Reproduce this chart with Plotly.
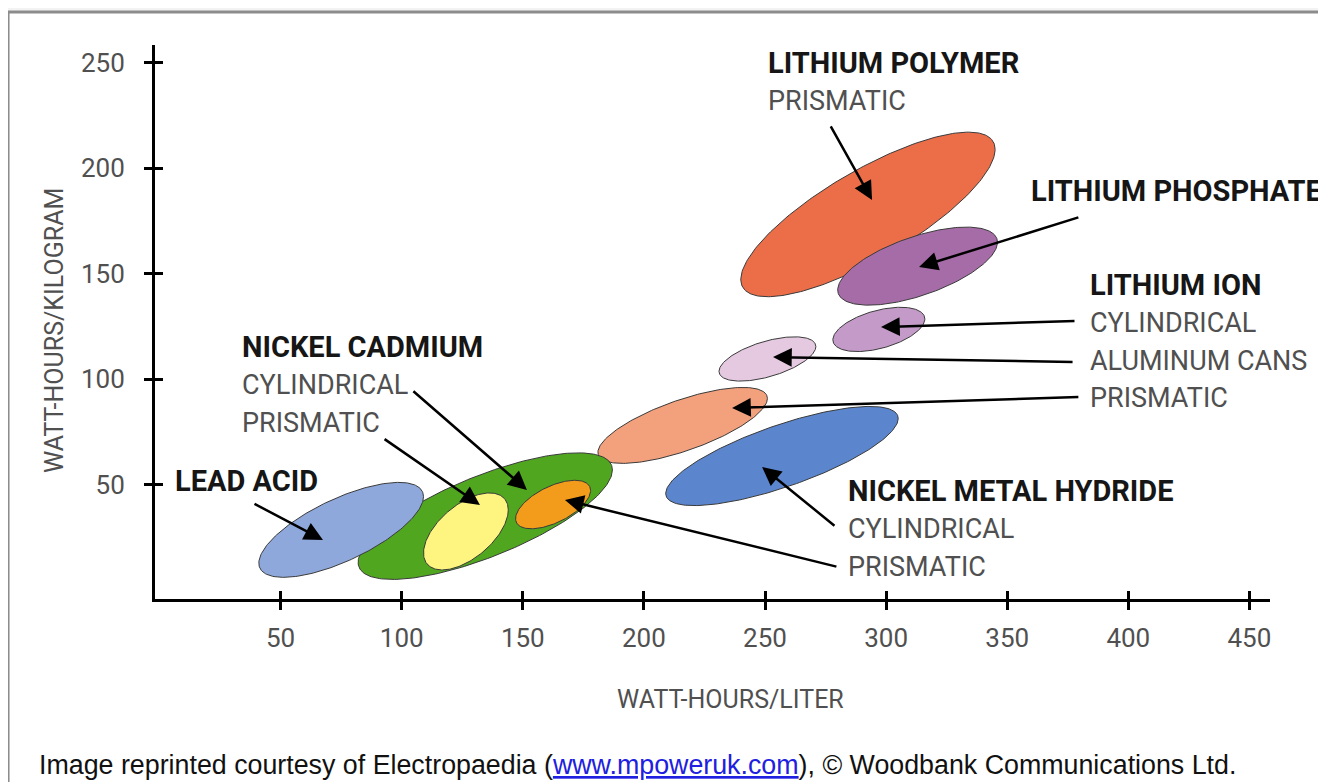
import numpy as np
import plotly.graph_objects as go

# ---------------- data ----------------
batteries = ["Lithium-ion prismatic", "Nickel cadmium", "Lead acid",
             "Nickel cadmium cylindrical", "Nickel cadmium prismatic",
             "Nickel metal hydride", "Lithium-ion aluminum cans",
             "Lithium polymer", "Lithium-ion cylindrical", "Lithium phosphate"]
wh_per_liter_min = [181, 82, 41, 109, 147, 209, 231, 240, 278, 280]
wh_per_liter_max = [251, 187, 109, 144, 178, 305, 271, 345, 316, 346]
wh_per_kg_min = [60, 5, 6, 9.5, 29, 40, 99, 139, 113, 135]
wh_per_kg_max = [96, 65, 51, 46, 52, 87, 120, 217, 134, 172]
tilt = [0.71, 0.73, 0.70, 0.56, 0.58, 0.755, 0.56, 0.79, 0.47, 0.61]
fill_colors = ["#F3A07D", "#50A71F", "#8FA8DC", "#FDF57F", "#F39C1C",
               "#5B85CD", "#E4C9E1", "#EC6E49", "#C49BC8", "#A66CA8"]

x_ticks = [50, 100, 150, 200, 250, 300, 350, 400, 450]
y_ticks = [50, 100, 150, 200, 250]

# ---------------- figure ----------------
FONT = "Roboto, Liberation Sans, Arial, sans-serif"
GREY = "#505050"
DARK = "#161616"

fig = go.Figure()
t = np.linspace(0, 2 * np.pi, 240)
for name, x0, x1, y0, y1, r, col in zip(batteries, wh_per_liter_min, wh_per_liter_max,
                                         wh_per_kg_min, wh_per_kg_max, tilt, fill_colors):
    cx, cy = (x0 + x1) / 2, (y0 + y1) / 2
    hx, hy = (x1 - x0) / 2, (y1 - y0) / 2
    xs = cx + hx * np.cos(t)
    ys = cy + hy * (r * np.cos(t) + np.sqrt(1 - r * r) * np.sin(t))
    fig.add_trace(go.Scatter(x=xs, y=ys, mode="lines", fill="toself", fillcolor=col,
                             line=dict(color="#3a3a3a", width=1), name=name,
                             hoverinfo="name", showlegend=False))

# helper overlay axes give the ticks that cross the axis line
fig.add_trace(go.Scatter(x=[], y=[], xaxis="x2", yaxis="y2", showlegend=False))

XR = [-1.86, 458.5]
YR = [-4.27, 258.3]
TICKFONT = dict(family=FONT, size=26, color=GREY)
fig.update_layout(
    # the page body adds an 8px offset, so the figure is 8px smaller with 8px less margin
    width=1318, height=774,
    margin=dict(l=147, r=56, t=37, b=183),
    paper_bgcolor="#f3f3f3", plot_bgcolor="rgba(0,0,0,0)",
    xaxis=dict(range=XR, tickvals=x_ticks, ticks="outside", ticklen=8, tickwidth=2.5,
               tickcolor="black", showline=True, linecolor="black", linewidth=3,
               showgrid=False, zeroline=False, ticklabelstandoff=6, tickfont=TICKFONT),
    yaxis=dict(range=YR, tickvals=y_ticks, ticks="outside", ticklen=8, tickwidth=2.5,
               tickcolor="black", showline=True, linecolor="black", linewidth=3,
               showgrid=False, zeroline=False, ticklabelstandoff=14, tickfont=TICKFONT),
    xaxis2=dict(range=XR, overlaying="x", anchor="y", side="bottom", tickvals=x_ticks,
                ticks="inside", ticklen=8, tickwidth=2.5, tickcolor="black",
                showticklabels=False, showline=False, showgrid=False, zeroline=False),
    yaxis2=dict(range=YR, overlaying="y", anchor="x", side="left", tickvals=y_ticks,
                ticks="inside", ticklen=8, tickwidth=2.5, tickcolor="black",
                showticklabels=False, showline=False, showgrid=False, zeroline=False),
    shapes=[dict(type="rect", xref="paper", yref="paper", layer="below",
                 x0=-0.1318, x1=1.06, y0=-0.34, y1=1.0596,
                 fillcolor="white", line=dict(color="#8c8c8c", width=3))],
)

ann = []
# axis titles and credit
ann.append(dict(xref="paper", yref="paper", x=0.5157, y=-0.1823, xanchor="center",
                yanchor="middle", text="WATT-HOURS/LITER", showarrow=False,
                font=dict(family=FONT, size=25, color=GREY)))
ann.append(dict(xref="paper", yref="paper", x=-0.0897, y=0.4856, xanchor="center",
                yanchor="middle", text="WATT-HOURS/KILOGRAM", textangle=-90,
                showarrow=False, font=dict(family=FONT, size=25, color=GREY)))
ann.append(dict(xref="paper", yref="paper", x=-0.1057, y=-0.2996, xanchor="left",
                yanchor="middle",
                text="Image reprinted courtesy of Electropaedia (<span style='color:#2020e0'><u>www.mpoweruk.com</u></span>), © Woodbank Communications Ltd.",
                showarrow=False, font=dict(family="Liberation Sans, Arial, sans-serif",
                                           size=26.8, color="#111111")))

labels = [
    ("LITHIUM POLYMER", 250.6, 249.8, True), ("PRISMATIC", 250.6, 231.8, False),
    ("LITHIUM PHOSPHATE", 359.2, 189.1, True),
    ("LITHIUM ION", 383.2, 144.5, True), ("CYLINDRICAL", 383.2, 126.5, False),
    ("ALUMINUM CANS", 383.2, 108.5, False), ("PRISMATIC", 383.2, 91.0, False),
    ("NICKEL CADMIUM", 33.1, 115.2, True), ("CYLINDRICAL", 33.1, 97.2, False),
    ("PRISMATIC", 33.1, 79.1, False),
    ("LEAD ACID", 5.4, 51.7, True),
    ("NICKEL METAL HYDRIDE", 283.3, 46.9, True), ("CYLINDRICAL", 283.3, 28.9, False),
    ("PRISMATIC", 283.3, 10.9, False),
]
for txt, lx, ly, bold in labels:
    ann.append(dict(x=lx, y=ly, xref="x", yref="y", xanchor="left", yanchor="middle",
                    text=f"<b>{txt}</b>" if bold else txt, showarrow=False,
                    font=dict(family=FONT, size=29 if bold else 27,
                              color=DARK if bold else GREY)))

arrows = [  # (tail x, tail y, tip x, tip y) in data units
    (38.6, 41.2, 67.5, 23.7),
    (104.2, 94.8, 151.7, 47.4),
    (92.3, 72.0, 132.3, 40.3),
    (280.1, 10.9, 167.4, 42.7),
    (279.3, 29.9, 248.8, 58.3),
    (276.8, 220.4, 294.2, 184.8),
    (380.0, 176.8, 313.6, 153.1),
    (378.4, 127.5, 297.9, 124.6),
    (377.6, 108.1, 253.3, 110.4),
    (380.0, 91.5, 236.4, 86.3),
]
for ax_, ay_, tx, ty in arrows:
    ann.append(dict(x=tx, y=ty, ax=ax_, ay=ay_, xref="x", yref="y", axref="x", ayref="y",
                    text="", showarrow=True, arrowhead=2, arrowsize=1.5, arrowwidth=2.5,
                    arrowcolor="black", standoff=0, startstandoff=0))

fig.update_layout(annotations=ann)
fig.write_html("out.html")
